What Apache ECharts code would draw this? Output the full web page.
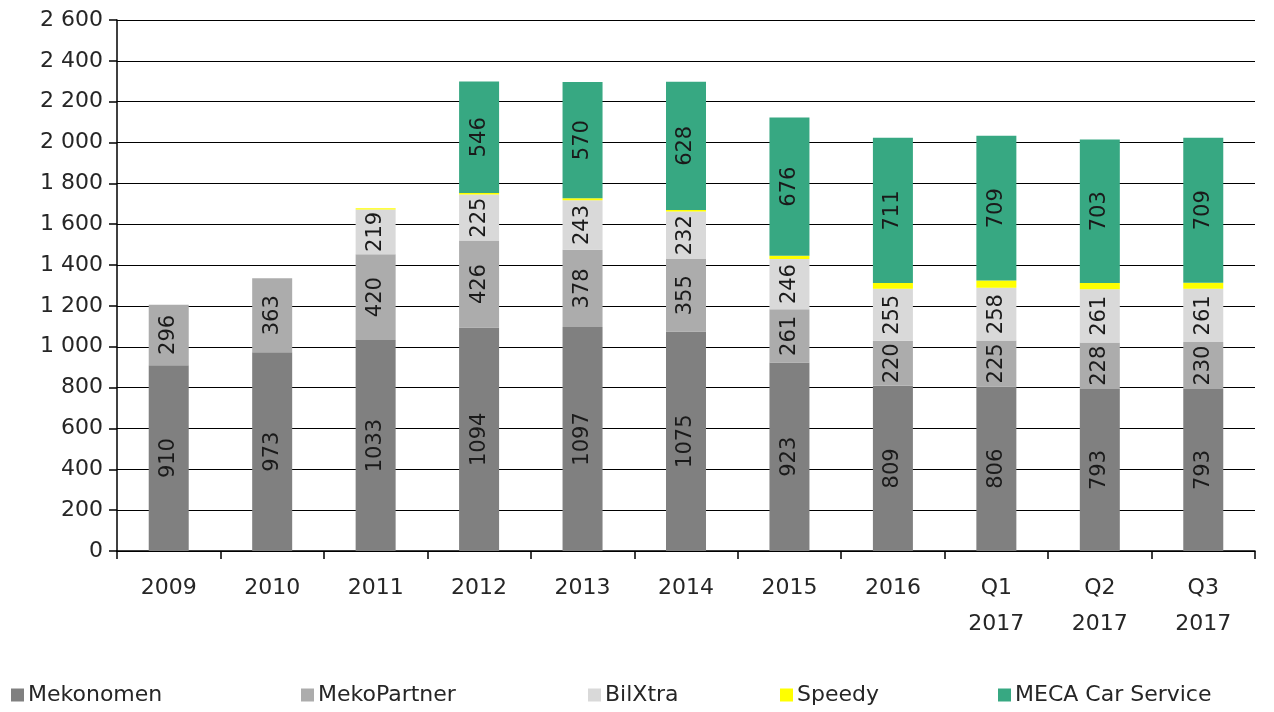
<!DOCTYPE html>
<html>
<head>
<meta charset="utf-8">
<script src="https://cdn.jsdelivr.net/npm/echarts@6/dist/echarts.min.js"></script>
<style>
  html, body { margin: 0; padding: 0; background: #fff; }
  #chart { width: 1274px; height: 712px; }
</style>
</head>
<body>
<div id="chart"></div>
<script>
const categories = ['2009', '2010', '2011', '2012', '2013', '2014', '2015', '2016', 'Q1\n2017', 'Q2\n2017', 'Q3\n2017']
const mekonomen = [910, 973, 1033, 1094, 1097, 1075, 923, 809, 806, 793, 793]
const mekoPartner = [296, 363, 420, 426, 378, 355, 261, 220, 225, 228, 230]
const bilXtra = [null, null, 219, 225, 243, 232, 246, 255, 258, 261, 261]
const speedy = [null, null, 6, 8, 9, 8, 16, 28, 35, 30, 30]
const mecaCarService = [null, null, null, 546, 570, 628, 676, 711, 709, 703, 709]

const FONT = 'DejaVu Sans, Liberation Sans, sans-serif'

const chart = echarts.init(document.getElementById('chart'))

function seg(name, data, color, showLabel) {
  return {
    name,
    type: 'bar',
    stack: 'total',
    data,
    barWidth: 40,
    itemStyle: { color },
    label: {
      show: showLabel,
      position: 'inside',
      rotate: 90,
      color: '#1a1a1a',
      fontSize: 21,
      fontFamily: FONT
    }
  }
}

const legendNames = ['Mekonomen', 'MekoPartner', 'BilXtra', 'Speedy', 'MECA Car Service']
const legendLeft = [6, 296, 583, 775, 993]

chart.setOption({
  animation: false,
  textStyle: { fontFamily: FONT },
  grid: { left: 117, right: 19, top: 20, bottom: 161 },
  legend: legendNames.map((n, i) => ({
    data: [n],
    left: legendLeft[i],
    bottom: 1,
    itemWidth: 13,
    itemHeight: 13,
    icon: 'rect',
    itemGap: 0,
    textStyle: { fontSize: 22, color: '#262626', fontFamily: FONT, padding: [0, 0, 0, -1] }
  })),
  xAxis: {
    type: 'category',
    data: categories,
    axisLine: { lineStyle: { color: '#000', width: 1.5 } },
    axisTick: { show: true, length: 8, lineStyle: { color: '#000', width: 1.5 } },
    axisLabel: { color: '#262626', fontSize: 22, margin: 19, lineHeight: 36, interval: 0 }
  },
  yAxis: {
    type: 'value',
    min: 0,
    max: 2600,
    interval: 200,
    axisLine: { show: true, lineStyle: { color: '#000', width: 1.5 } },
    axisTick: { show: true, inside: false, length: 8, lineStyle: { color: '#000', width: 1.5 } },
    splitLine: { lineStyle: { color: '#000', width: 1.2 } },
    axisLabel: {
      color: '#262626',
      fontSize: 22,
      margin: 14,
      formatter: v => String(v).replace(/\B(?=(\d{3})+(?!\d))/g, ' ')
    }
  },
  series: [
    seg('Mekonomen', mekonomen, '#808080', true),
    seg('MekoPartner', mekoPartner, '#acacac', true),
    seg('BilXtra', bilXtra, '#d9d9d9', true),
    seg('Speedy', speedy, '#ffff00', false),
    seg('MECA Car Service', mecaCarService, '#37a882', true)
  ]
})
</script>
</body>
</html>
